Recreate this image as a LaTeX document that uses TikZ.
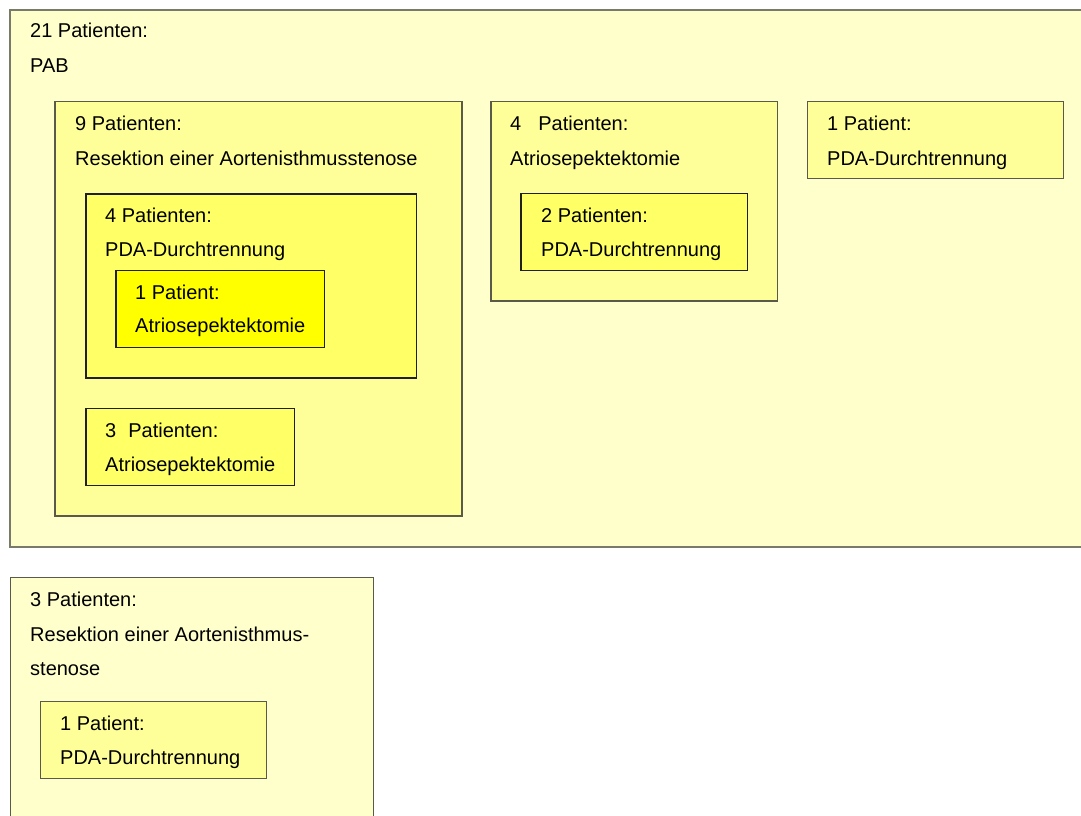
\documentclass[tikz,border=0pt]{standalone}
\usepackage{fontspec}
\setmainfont{Liberation Sans}
\definecolor{c1}{HTML}{FFFFCC}
\definecolor{c2}{HTML}{FFFF99}
\definecolor{c3}{HTML}{FFFF66}
\definecolor{c4}{HTML}{FFFF00}
\definecolor{e1}{HTML}{7A7A6A}
\definecolor{e2}{HTML}{5A5A4A}
\definecolor{e3}{HTML}{202020}
\tikzset{
  box/.style={draw, line width=1.2bp, anchor=north west, inner sep=0pt, outer sep=0pt},
  lbl/.style={anchor=base west, inner sep=0pt, font=\fontsize{20bp}{24bp}\selectfont}
}
\begin{document}
\begin{tikzpicture}[x=1bp,y=-1bp]
\useasboundingbox[fill=white] (0,0) rectangle (1081,816);
\clip (0,0) rectangle (1081,816);
% outer PAB
\node[box, fill=c1, draw=e1, minimum width=1090bp, minimum height=537bp] (pab) at (10,10) {};
\node[lbl] (pabA) at (30,38) {21 Patienten:};
\node[lbl] (pabB) at (30,72.7) {PAB};
% 9 Patienten
\node[box, fill=c2, draw=e2, minimum width=407bp, minimum height=414.5bp] (r9) at (55,101.5) {};
\node[lbl] (r9A) at (75,130) {9 Patienten:};
\node[lbl] (r9B) at (75,165) {Resektion einer Aortenisthmusstenose};
% 4 Patienten PDA
\node[box, fill=c3, draw=e3, minimum width=330.5bp, minimum height=184bp] (p4) at (86,194) {};
\node[lbl] (p4A) at (105,222.3) {4 Patienten:};
\node[lbl] (p4B) at (105,256.5) {PDA-Durchtrennung};
% 1 Patient Atrio
\node[box, fill=c4, draw=e3, minimum width=208.5bp, minimum height=77bp] (a1) at (116,270.3) {};
\node[lbl] (a1A) at (135,299.3) {1 Patient:};
\node[lbl] (a1B) at (135,332.7) {Atriosepektektomie};
% 3 Patienten Atrio
\node[box, fill=c3, draw=e3, minimum width=208.7bp, minimum height=76.6bp] (a3) at (86,408.7) {};
\node[lbl] (a3A) at (105,437.3) {3\hspace{0.6em}Patienten:};
\node[lbl] (a3B) at (105,471) {Atriosepektektomie};
% 4 Patienten Atrio
\node[box, fill=c2, draw=e2, minimum width=286.5bp, minimum height=199.5bp] (a4) at (491,101.5) {};
\node[lbl] (a4A) at (510,130) {4\hspace{0.85em}Patienten:};
\node[lbl] (a4B) at (510,165) {Atriosepektektomie};
% 2 Patienten PDA
\node[box, fill=c3, draw=e3, minimum width=226.5bp, minimum height=77bp] (p2) at (521,193.5) {};
\node[lbl] (p2A) at (541,222) {2 Patienten:};
\node[lbl] (p2B) at (541,256) {PDA-Durchtrennung};
% 1 Patient PDA
\node[box, fill=c2, draw=e2, minimum width=256bp, minimum height=77bp] (p1) at (807.5,101.5) {};
\node[lbl] (p1A) at (827,130) {1 Patient:};
\node[lbl] (p1B) at (827,165) {PDA-Durchtrennung};
% bottom 3 Patienten
\node[box, fill=c1, draw=e2, minimum width=362.6bp, minimum height=260bp] (r3) at (10.7,577.3) {};
\node[lbl] (r3A) at (30,606.7) {3 Patienten:};
\node[lbl] (r3B) at (30,641) {Resektion einer Aortenisthmus-};
\node[lbl] (r3C) at (30,675) {stenose};
% bottom 1 Patient PDA
\node[box, fill=c2, draw=e2, minimum width=226.4bp, minimum height=77bp] (q1) at (40.3,701.7) {};
\node[lbl] (q1A) at (60,730) {1 Patient:};
\node[lbl] (q1B) at (60,764) {PDA-Durchtrennung};
\end{tikzpicture}
\end{document}
